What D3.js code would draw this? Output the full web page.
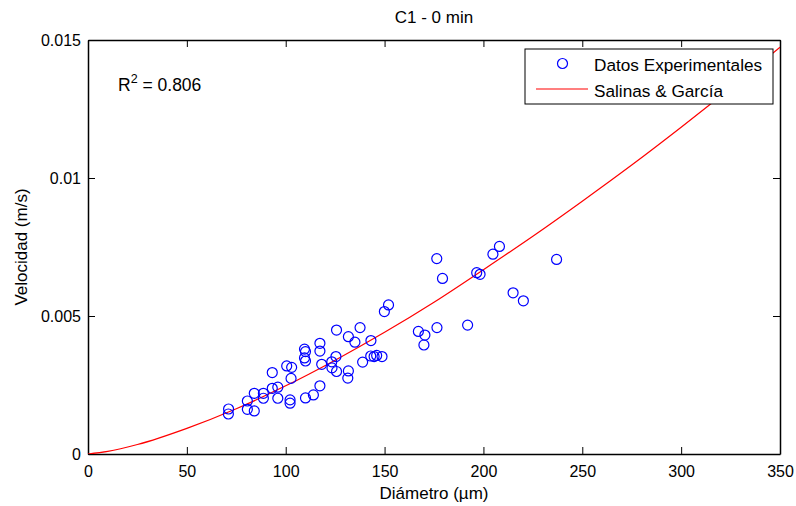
<!DOCTYPE html>
<html>
<head>
<meta charset="utf-8">
<script src="https://cdn.jsdelivr.net/npm/d3@7"></script>
<style>
  body { margin: 0; background: #fff; }
  svg text { font-family: "Liberation Sans", Arial, sans-serif; fill: #000; }
</style>
</head>
<body>
<div id="chart"></div>
<script>
const diam = [71.1, 71.0, 80.6, 80.6, 84.1, 84.1, 88.7, 88.7, 93.2, 93.2,
  96.0, 96.0, 100.5, 103.0, 102.7, 102.2, 102.2, 109.5, 110.0, 109.5,
  110.0, 117.3, 117.3, 118.2, 123.3, 125.4, 123.4, 125.7, 131.7, 131.4,
  117.3, 114.0, 110.0, 138.9, 143.0, 144.7, 146.0, 148.7, 125.7, 137.6,
  131.7, 135.0, 143.1, 152.0, 149.9, 167.1, 170.4, 169.9, 176.5, 192.0,
  176.4, 179.3, 196.6, 198.3, 208.1, 204.8, 237.0, 215.0, 220.2];
const veloc = [0.00163, 0.00145, 0.00192, 0.00162, 0.00220, 0.00156, 0.00220, 0.00202, 0.00295, 0.00238,
  0.00242, 0.00202, 0.00319, 0.00314, 0.00274, 0.00196, 0.00184, 0.00380, 0.00371, 0.00348,
  0.00337, 0.00401, 0.00373, 0.00325, 0.00334, 0.00353, 0.00312, 0.00299, 0.00301, 0.00275,
  0.00247, 0.00214, 0.00203, 0.00333, 0.00355, 0.00353, 0.00357, 0.00353, 0.00449, 0.00458,
  0.00425, 0.00405, 0.00411, 0.00540, 0.00516, 0.00444, 0.00431, 0.00395, 0.00458, 0.00467,
  0.00708, 0.00636, 0.00657, 0.00651, 0.00752, 0.00724, 0.00705, 0.00584, 0.00555];

// Salinas & García model curve
const modelD = [0, 10, 25, 50, 75, 100, 125, 150, 175, 200, 225, 250, 275, 300, 325, 350];
const modelV = [0, 0.000093, 0.000343, 0.00093, 0.00164, 0.00247, 0.00340, 0.00441, 0.00550,
  0.00668, 0.00789, 0.00916, 0.01047, 0.01184, 0.01326, 0.01474];

const xTicks = [0, 50, 100, 150, 200, 250, 300, 350];
const yTicks = [0, 0.005, 0.01, 0.015];
const yTickLabels = ['0', '0.005', '0.01', '0.015'];

const W = 796, H = 506;
const m = { left: 88, right: 16, top: 40, bottom: 52 };
const font = '"Liberation Sans", Arial, sans-serif';

const svg = d3.select('#chart').append('svg')
  .attr('width', W)
  .attr('height', H);

const x = d3.scaleLinear().domain([0, 350]).range([m.left, W - m.right]);
const y = d3.scaleLinear().domain([0, 0.015]).range([H - m.bottom, m.top]);

svg.append('defs').append('clipPath').attr('id', 'plotclip')
  .append('rect')
  .attr('x', x(0)).attr('y', y(0.015))
  .attr('width', x(350) - x(0)).attr('height', y(0) - y(0.015));

// axes with inward ticks on all four sides
const tickLen = 7;
const axB = svg.append('g')
  .attr('transform', `translate(0,${y(0)})`)
  .call(d3.axisBottom(x).tickValues(xTicks).tickSizeInner(-tickLen).tickSizeOuter(0).tickPadding(12));
const axT = svg.append('g')
  .attr('transform', `translate(0,${y(0.015)})`)
  .call(d3.axisTop(x).tickValues(xTicks).tickSizeInner(-tickLen).tickSizeOuter(0).tickFormat(''));
const axL = svg.append('g')
  .attr('transform', `translate(${x(0)},0)`)
  .call(d3.axisLeft(y).tickValues(yTicks).tickSizeInner(-tickLen).tickSizeOuter(0)
    .tickPadding(7).tickFormat((d, i) => yTickLabels[i]));
const axR = svg.append('g')
  .attr('transform', `translate(${x(350)},0)`)
  .call(d3.axisRight(y).tickValues(yTicks).tickSizeInner(-tickLen).tickSizeOuter(0).tickFormat(''));

[axB, axT, axL, axR].forEach(a => {
  a.select('.domain').attr('stroke', '#000').attr('stroke-width', 1.5);
  a.selectAll('.tick line').attr('stroke', '#000').attr('stroke-width', 1);
  a.selectAll('.tick text').attr('font-size', 16).attr('font-family', font).attr('fill', '#000');
});

const plot = svg.append('g').attr('clip-path', 'url(#plotclip)');

// model curve
const line = d3.line()
  .x((d, i) => x(modelD[i]))
  .y((d, i) => y(modelV[i]))
  .curve(d3.curveMonotoneX);

plot.append('path')
  .datum(modelD)
  .attr('d', line)
  .attr('fill', 'none')
  .attr('stroke', '#ff0000')
  .attr('stroke-width', 1.2);

// experimental points
plot.selectAll('circle.pt')
  .data(diam)
  .enter().append('circle')
  .attr('class', 'pt')
  .attr('cx', d => x(d))
  .attr('cy', (d, i) => y(veloc[i]))
  .attr('r', 5)
  .attr('fill', 'none')
  .attr('stroke', '#0000ff')
  .attr('stroke-width', 1.2);

// title and axis labels
svg.append('text')
  .attr('x', (x(0) + x(350)) / 2).attr('y', 23)
  .attr('text-anchor', 'middle').attr('font-size', 17)
  .text('C1 - 0 min');

svg.append('text')
  .attr('x', (x(0) + x(350)) / 2).attr('y', 499)
  .attr('text-anchor', 'middle').attr('font-size', 17)
  .text('Diámetro (µm)');

svg.append('text')
  .attr('transform', `translate(27,${(y(0) + y(0.015)) / 2}) rotate(-90)`)
  .attr('text-anchor', 'middle').attr('font-size', 17)
  .text('Velocidad (m/s)');

// R^2 annotation
const r2 = svg.append('text')
  .attr('x', 118).attr('y', 91).attr('font-size', 17.5);
r2.append('tspan').text('R');
r2.append('tspan').attr('dy', -8).attr('font-size', 12.5).text('2');
r2.append('tspan').attr('dy', 8).text(' = 0.806');

// legend
const lg = svg.append('g');
lg.append('rect')
  .attr('x', 525).attr('y', 49).attr('width', 248).attr('height', 55)
  .attr('fill', '#fff').attr('stroke', '#000').attr('stroke-width', 1);
lg.append('circle')
  .attr('cx', 562.5).attr('cy', 63.5).attr('r', 5)
  .attr('fill', 'none').attr('stroke', '#0000ff').attr('stroke-width', 1.2);
lg.append('text')
  .attr('x', 594).attr('y', 70.5).attr('font-size', 17.2)
  .text('Datos Experimentales');
lg.append('line')
  .attr('x1', 536).attr('x2', 588).attr('y1', 89).attr('y2', 89)
  .attr('stroke', '#ff0000').attr('stroke-width', 1.2);
lg.append('text')
  .attr('x', 594).attr('y', 96.5).attr('font-size', 17.2)
  .text('Salinas & García');
</script>
</body>
</html>
